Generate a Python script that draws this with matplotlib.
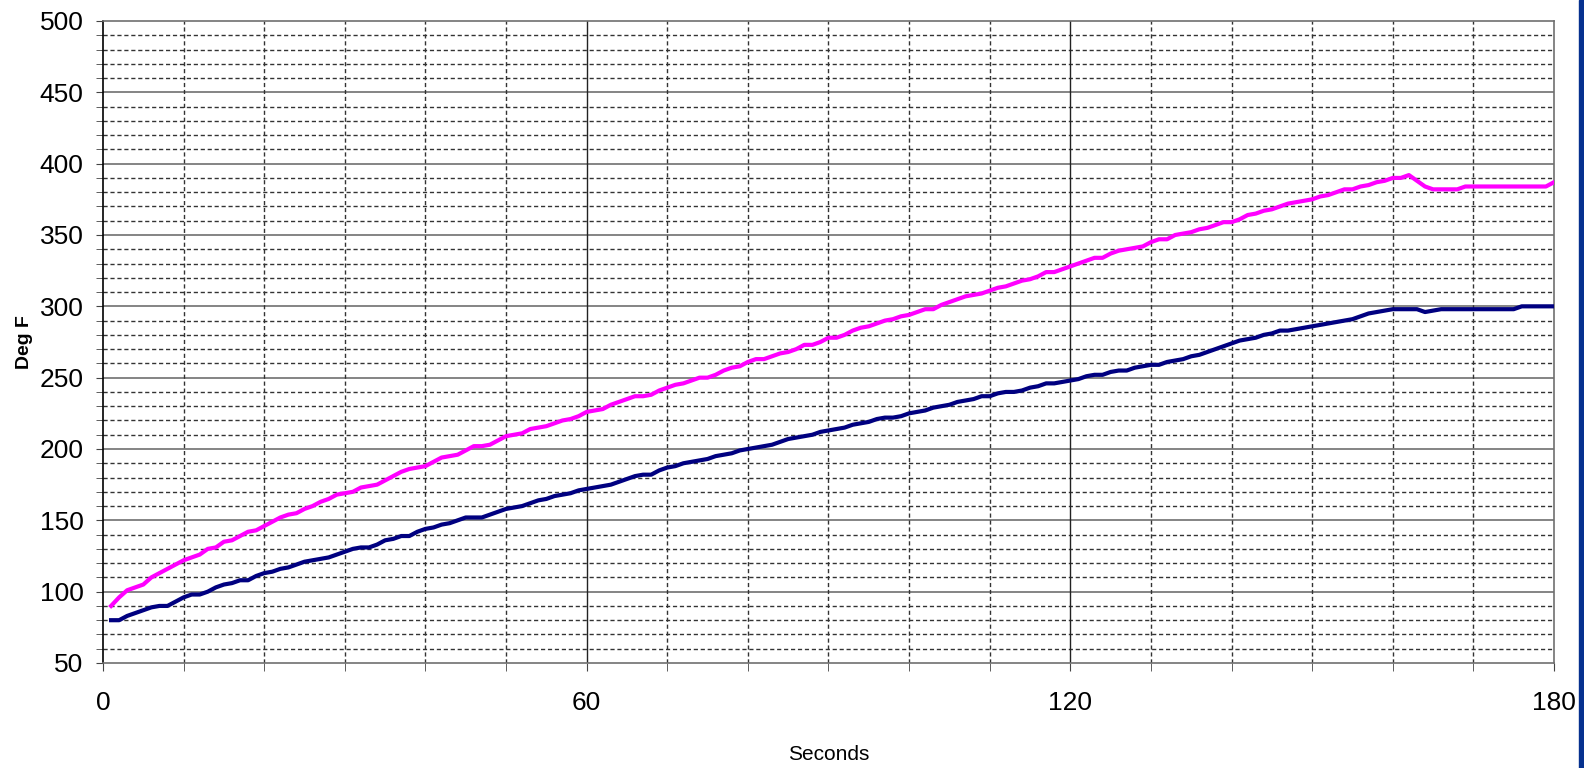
import matplotlib
matplotlib.use("Agg")
import matplotlib.pyplot as plt
from matplotlib.patches import Rectangle

# seconds 1..180
seconds = list(range(1, 181))

# upper trace (magenta), deg F
temp_upper = [
    90, 96, 101, 103, 105, 110, 113, 116, 119, 122,
    124, 126, 130, 131, 135, 136, 139, 142, 143, 146,
    149, 152, 154, 155, 158, 160, 163, 165, 168, 169,
    170, 173, 174, 175, 178, 181, 184, 186, 187, 188,
    191, 194, 195, 196, 199, 202, 202, 203, 206, 209,
    210, 211, 214, 215, 216, 218, 220, 221, 223, 226,
    227, 228, 231, 233, 235, 237, 237, 238, 241, 243,
    245, 246, 248, 250, 250, 252, 255, 257, 258, 261,
    263, 263, 265, 267, 268, 270, 273, 273, 275, 278,
    278, 280, 283, 285, 286, 288, 290, 291, 293, 294,
    296, 298, 298, 301, 303, 305, 307, 308, 309, 311,
    313, 314, 316, 318, 319, 321, 324, 324, 326, 328,
    330, 332, 334, 334, 337, 339, 340, 341, 342, 345,
    347, 347, 350, 351, 352, 354, 355, 357, 359, 359,
    361, 364, 365, 367, 368, 370, 372, 373, 374, 375,
    377, 378, 380, 382, 382, 384, 385, 387, 388, 390,
    390, 392, 388, 384, 382, 382, 382, 382, 384, 384,
    384, 384, 384, 384, 384, 384, 384, 384, 384, 387,
]

# lower trace (navy), deg F
temp_lower = [
    80, 80, 83, 85, 87, 89, 90, 90, 93, 96,
    98, 98, 100, 103, 105, 106, 108, 108, 111, 113,
    114, 116, 117, 119, 121, 122, 123, 124, 126, 128,
    130, 131, 131, 133, 136, 137, 139, 139, 142, 144,
    145, 147, 148, 150, 152, 152, 152, 154, 156, 158,
    159, 160, 162, 164, 165, 167, 168, 169, 171, 172,
    173, 174, 175, 177, 179, 181, 182, 182, 185, 187,
    188, 190, 191, 192, 193, 195, 196, 197, 199, 200,
    201, 202, 203, 205, 207, 208, 209, 210, 212, 213,
    214, 215, 217, 218, 219, 221, 222, 222, 223, 225,
    226, 227, 229, 230, 231, 233, 234, 235, 237, 237,
    239, 240, 240, 241, 243, 244, 246, 246, 247, 248,
    249, 251, 252, 252, 254, 255, 255, 257, 258, 259,
    259, 261, 262, 263, 265, 266, 268, 270, 272, 274,
    276, 277, 278, 280, 281, 283, 283, 284, 285, 286,
    287, 288, 289, 290, 291, 293, 295, 296, 297, 298,
    298, 298, 298, 296, 297, 298, 298, 298, 298, 298,
    298, 298, 298, 298, 298, 300, 300, 300, 300, 300,
]

x_ticks = [0, 60, 120, 180]
y_ticks = [50, 100, 150, 200, 250, 300, 350, 400, 450, 500]

plt.rcParams['font.family'] = ['Liberation Sans', 'DejaVu Sans']

fig = plt.figure(figsize=(15.84, 7.68), dpi=100)
ax = fig.add_axes([103 / 1584, 1 - 663 / 768, 1451 / 1584, 642 / 768])

# grid: minor dashed, major solid
for v in range(60, 500, 10):
    if v % 50:
        ax.axhline(v, color="#333333", lw=1, ls=(0, (3, 2)), zorder=1)
    else:
        ax.axhline(v, color="#707070", lw=1.2, zorder=1)
for s in range(10, 180, 10):
    if s % 60:
        ax.axvline(s, color="#333333", lw=1, ls=(0, (3, 2)), zorder=1)
    else:
        ax.axvline(s, color="#222222", lw=1, zorder=1)

ax.plot(seconds, temp_upper, color="#ff00ff", lw=3, zorder=3)
ax.plot(seconds, temp_lower, color="#000080", lw=3, zorder=3)

ax.set_xlim(0, 180)
ax.set_ylim(50, 500)
ax.set_xticks(x_ticks)
ax.set_xticks(range(0, 181, 10), minor=True)
ax.set_yticks(y_ticks)
ax.set_yticks(range(50, 501, 10), minor=True)

ax.tick_params(axis="x", which="both", direction="out", length=6, color="#444444",
               labelsize=19, pad=14)
ax.tick_params(axis="y", which="both", direction="out", length=5, color="#444444",
               labelsize=19, pad=9)

for side in ["top", "right", "bottom"]:
    ax.spines[side].set_color("#707070")
    ax.spines[side].set_linewidth(1.2)
ax.spines["left"].set_color("black")
ax.spines["left"].set_linewidth(1.2)

ax.set_xlabel("Seconds", fontsize=15)
ax.set_ylabel("Deg F", fontsize=14, fontweight="bold")
ax.xaxis.set_label_coords(0.5, -0.128)
ax.yaxis.set_label_coords(-0.048, 0.5)

# blue strip on the right edge
fig.patches.append(Rectangle((1579 / 1584, 0), 5 / 1584, 1, transform=fig.transFigure,
                             color="#06318f", zorder=0))

fig.savefig("out.png", dpi=100)
